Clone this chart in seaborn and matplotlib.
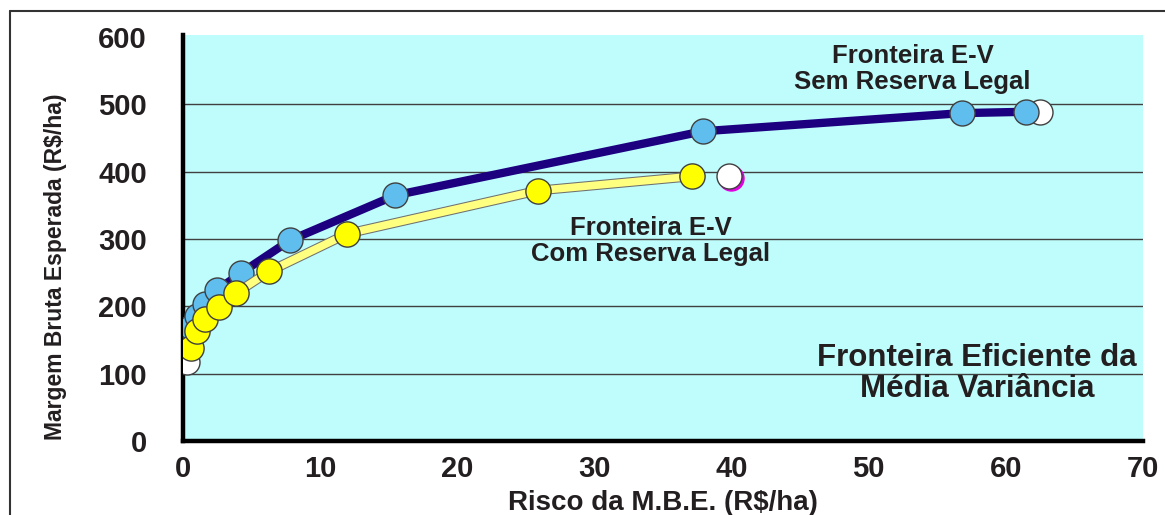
import numpy as np
import matplotlib.pyplot as plt
import matplotlib.patheffects as pe
from matplotlib.lines import Line2D
import seaborn as sns
import pandas as pd

# Fronteira E-V sem reserva legal
risco_sem = [0.3, 0.6, 1.0, 1.6, 2.5, 4.2, 7.8, 15.5, 37.9, 56.8, 61.5]
mbe_sem = [152, 170, 186, 204, 224, 249, 298, 365, 460, 487, 489]
# Fronteira E-V com reserva legal
risco_com = [0.6, 1.0, 1.6, 2.6, 3.9, 6.3, 12.0, 25.9, 37.1]
mbe_com = [138, 163, 181, 199, 220, 252, 308, 372, 393]
# pontos extremos (brancos)
risco_ext = [0.3, 39.8, 62.5]
mbe_ext = [118, 393, 489]
risco_mag = [0.15, 40.0]
mbe_mag = [122, 391]

sem = pd.DataFrame({'risco': risco_sem, 'mbe': mbe_sem})
com = pd.DataFrame({'risco': risco_com, 'mbe': mbe_com})

sns.set_theme(style="white")
plt.rcParams['font.family'] = ['Liberation Sans', 'DejaVu Sans']
plt.rcParams['font.weight'] = 'bold'
txt = '#231F20'

fig = plt.figure(figsize=(11.65, 5.15), dpi=100)
ax = fig.add_axes([0.157, 0.1437, 0.824, 0.7883])
ax.set_facecolor('#BFFCFC')

# extremos atras das curvas
ax.plot(risco_mag, mbe_mag, 'o', ms=18, mfc='#E000E0', mec='#E000E0', zorder=3)
ax.plot(risco_ext, mbe_ext, 'o', ms=18, mfc='white', mec='#404040', mew=1, zorder=3)

sns.lineplot(data=sem, x='risco', y='mbe', sort=False, ax=ax, color='#1C0080',
             lw=6, marker='o', markersize=18, markerfacecolor='#5FBEEE',
             markeredgecolor='#404040', markeredgewidth=1, zorder=4)
sns.lineplot(data=com, x='risco', y='mbe', sort=False, ax=ax, color='#FFFF80',
             lw=5.5, zorder=5,
             path_effects=[pe.Stroke(linewidth=7, foreground='#707070'), pe.Normal()])
sns.scatterplot(data=com, x='risco', y='mbe', ax=ax, s=330, color='#FFFF00',
                edgecolor='#404040', linewidth=1, zorder=6)

ax.set_xlim(0, 70)
ax.set_ylim(0, 603)
ax.set_xticks(range(0, 71, 10))
ax.set_yticks(range(0, 601, 100))
for yv in range(100, 501, 100):
    ax.axhline(yv, color='#404040', lw=1, zorder=1)

for s in ['top', 'right']:
    ax.spines[s].set_visible(False)
for s in ['left', 'bottom']:
    ax.spines[s].set_color('black')
    ax.spines[s].set_linewidth(3.2)
ax.tick_params(axis='y', direction='out', length=5, width=3, color='black',
               labelsize=21, labelcolor=txt, pad=21)
ax.tick_params(axis='x', direction='out', length=3, width=3, color='black',
               labelsize=21, labelcolor=txt, pad=7)
for lab in ax.get_xticklabels() + ax.get_yticklabels():
    lab.set_fontweight('bold')

ax.set_xlabel('Risco da M.B.E. (R$/ha)', fontsize=20, fontweight='bold', color=txt, labelpad=5)
ax.set_ylabel('Margem Bruta Esperada (R$/ha)', fontsize=16.5, fontweight='bold', color=txt)
ax.yaxis.set_label_coords(-0.121, 0.43)

ax.text(53.2, 553, 'Fronteira E-V\nSem Reserva Legal', ha='center', va='center',
        fontsize=18.5, fontweight='bold', color=txt, linespacing=1.1)
ax.text(34.1, 297, 'Fronteira E-V\nCom Reserva Legal', ha='center', va='center',
        fontsize=18.5, fontweight='bold', color=txt, linespacing=1.1)
ax.text(57.9, 100, 'Fronteira Eficiente da\nMédia Variância', ha='center', va='center',
        fontsize=22.5, fontweight='bold', color=txt, linespacing=1.05)

# moldura da figura
fig.add_artist(Line2D([0.0086, 1.0], [0.9786, 0.9786], color='#333333', lw=1.5))
fig.add_artist(Line2D([0.0086, 0.0086], [0.0, 0.9786], color='#333333', lw=1.5))

fig.savefig('out.png', dpi=100)
